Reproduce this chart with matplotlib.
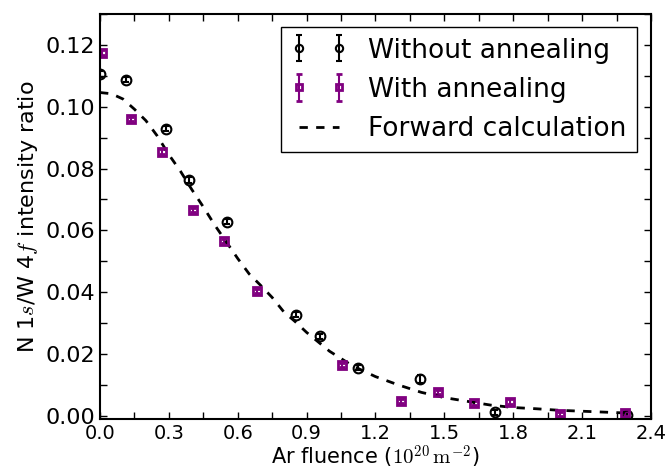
import matplotlib; matplotlib.use("Agg")
import matplotlib.pyplot as plt
from matplotlib.ticker import MultipleLocator

plt.rcParams["mathtext.fontset"] = "cm"
plt.rcParams["font.family"] = "DejaVu Sans"

# without annealing (open circles)
x_wo = [0.0, 0.113, 0.288, 0.388, 0.555, 0.853, 0.959, 1.122, 1.396, 1.720, 2.294]
y_wo = [0.1105, 0.1087, 0.0929, 0.0763, 0.0628, 0.0327, 0.0257, 0.0156, 0.0119, 0.0011, 0.0004]
e_wo = [0.0010, 0.0008, 0.0008, 0.0009, 0.0008, 0.0008, 0.0009, 0.0008, 0.0012, 0.0009, 0.0008]

# with annealing (open squares)
x_w = [0.010, 0.133, 0.269, 0.404, 0.538, 0.686, 1.054, 1.313, 1.471, 1.628, 1.788, 2.006, 2.287]
y_w = [0.1175, 0.0960, 0.0855, 0.0666, 0.0566, 0.0404, 0.0165, 0.0049, 0.0077, 0.0041, 0.0046, 0.0005, 0.0009]
e_w = [0.0009, 0.0007, 0.0007, 0.0007, 0.0007, 0.0007, 0.0007, 0.0007, 0.0007, 0.0007, 0.0008, 0.0007, 0.0008]

# forward calculation (dashed)
x_fc = [0.0, 0.05, 0.1, 0.15, 0.2, 0.25, 0.3, 0.35, 0.4, 0.45, 0.5, 0.55, 0.6, 0.65, 0.7,
        0.75, 0.8, 0.85, 0.9, 1.0, 1.1, 1.2, 1.3, 1.4, 1.5, 1.6, 1.7, 1.8, 1.9, 2.0, 2.1,
        2.2, 2.3]
y_fc = [0.1046, 0.1042, 0.1025, 0.0992, 0.0955, 0.0905, 0.0845, 0.0792, 0.0732, 0.0676,
        0.0617, 0.0563, 0.0509, 0.0459, 0.0422, 0.0383, 0.0337, 0.0305, 0.0270, 0.0209,
        0.0162, 0.0127, 0.0100, 0.0076, 0.0059, 0.0047, 0.0035, 0.0027, 0.0023, 0.0018,
        0.0015, 0.0012, 0.0009]

xticks = [0.0, 0.3, 0.6, 0.9, 1.2, 1.5, 1.8, 2.1, 2.4]
yticks = [0.00, 0.02, 0.04, 0.06, 0.08, 0.10, 0.12]

purple = "#800080"

fig = plt.figure(figsize=(6.69, 4.75), dpi=100)
ax = fig.add_axes([0.1495, 0.118, 0.8235, 0.8525])

h1 = ax.errorbar(x_wo, y_wo, yerr=e_wo, fmt="o", mfc="none", mec="k", mew=1.5, ms=7,
                 color="k", ecolor="k", elinewidth=1.5, capsize=2, capthick=1.5,
                 label="Without annealing")
h2 = ax.errorbar(x_w, y_w, yerr=e_w, fmt="s", mfc="none", mec=purple, mew=2, ms=6,
                 color=purple, ecolor=purple, elinewidth=1.5, capsize=2, capthick=1.5,
                 label="With annealing")
h3, = ax.plot(x_fc, y_fc, color="k", lw=2, dashes=(3, 3), label="Forward calculation")

ax.set_xticks(xticks)
ax.set_xticklabels([f"{v:.1f}" for v in xticks])
ax.set_yticks(yticks)
ax.set_yticklabels([f"{v:.2f}" for v in yticks])
ax.xaxis.set_minor_locator(MultipleLocator(0.15))
ax.yaxis.set_minor_locator(MultipleLocator(0.01))
ax.set_xlim(0, 2.4)
ax.set_ylim(-0.001, 0.13)
ax.tick_params(which="both", direction="in", top=True, right=True, length=5, width=1)
ax.tick_params(axis="y", labelsize=16)
ax.tick_params(axis="x", labelsize=14)
for s in ax.spines.values():
    s.set_linewidth(1.5)

ax.set_xlabel(r"Ar fluence ($10^{20}\,\mathrm{m}^{-2}$)", fontsize=15, labelpad=1)
ax.set_ylabel(r"N 1$s$/W 4$f$ intensity ratio", fontsize=16, labelpad=4)

leg = ax.legend([h1, h2, h3], ["Without annealing", "With annealing", "Forward calculation"],
                loc="upper right", bbox_to_anchor=(0.9746, 0.968), borderaxespad=0,
                numpoints=2, fontsize=19, fancybox=False, edgecolor="k", framealpha=1,
                handlelength=2.1, handletextpad=0.8, borderpad=0.4, labelspacing=0.5,
                markerscale=0.75)
leg.get_frame().set_linewidth(1)

fig.savefig("out.png", dpi=100)
